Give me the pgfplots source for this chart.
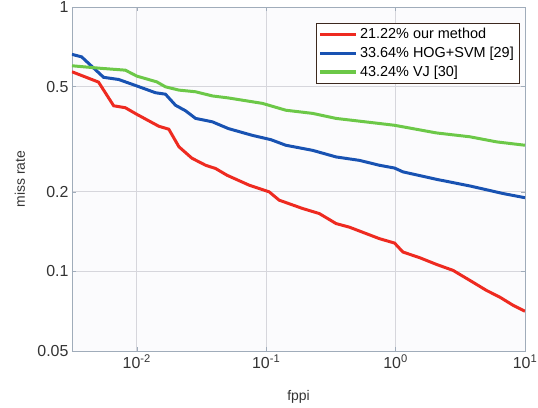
\documentclass[border=0pt]{standalone}
\usepackage{fontspec}
\setmainfont{Liberation Sans}
\usepackage{pgfplots}
\pgfplotsset{compat=1.18}
\definecolor{cRed}{RGB}{238,42,32}
\definecolor{cBlue}{RGB}{24,82,178}
\definecolor{cGreen}{RGB}{108,200,72}
\definecolor{gridc}{RGB}{214,214,220}
\definecolor{axc}{RGB}{160,172,186}

\begin{document}
\begin{tikzpicture}
\path[use as bounding box] (-72bp,-57bp) rectangle (466bp,351bp);
\begin{axis}[
  at={(0,0)}, anchor=south west,
  width=453bp, height=344bp, scale only axis,
  xmode=log, ymode=log,
  xmin=0.0031623, xmax=10, ymin=0.05, ymax=1,
  xtick={0.01,0.1,1,10},
  xticklabels={10\textsuperscript{-2},10\textsuperscript{-1},10\textsuperscript{0},10\textsuperscript{1}},
  ytick={0.05,0.1,0.2,0.5,1},
  yticklabels={0.05,0.1,0.2,0.5,1},
  xminorticks=false, yminorticks=false,
  tick align=inside, major tick length=4bp,
  tick style={axc},
  axis line style={axc},
  grid=major, major grid style={gridc, line width=0.8pt},
  ticklabel style={font=\fontsize{16}{19}\selectfont, text=black!80},
  xlabel={fppi}, ylabel={miss rate},
  label style={font=\fontsize{14}{17}\selectfont, text=black!80},
  xlabel style={at={(axis description cs:0.5,-0.1337)}, anchor=center},
  ylabel style={at={(axis description cs:-0.1148,0.5)}, anchor=center},
  axis background/.style={fill={rgb,255:red,251;green,251;blue,253}},
  every axis plot/.append style={line width=3pt},
  legend style={at={(1,1)}, anchor=north east, xshift=-6bp, yshift=-16bp,
    draw={rgb,255:red,60;green,40;blue,30}, fill=white,
    font=\fontsize{14.5}{17}\selectfont, row sep=3bp, inner sep=3bp},
  legend cell align=left,
  legend image code/.code={\draw[mark repeat=2,mark phase=2,#1] plot coordinates {(0bp,0bp) (18bp,0bp) (36bp,0bp)};},
  every legend image post/.style={line width=3.2pt},
]
\addplot[cRed] coordinates {
(0.00316,0.569) (0.00507,0.520) (0.00664,0.423) (0.00817,0.416) (0.01,0.393)
(0.01482,0.354) (0.0177,0.345) (0.0212,0.296) (0.0267,0.268) (0.0341,0.252)
(0.0407,0.245) (0.0499,0.231) (0.0738,0.212) (0.1055,0.200) (0.126,0.186)
(0.191,0.173) (0.2576,0.1655) (0.347,0.1517) (0.440,0.147) (0.593,0.139)
(0.751,0.133) (0.982,0.128) (1.139,0.1184) (1.535,0.1127) (2.068,0.1063)
(2.781,0.1009) (3.746,0.0925) (5.05,0.0847) (6.40,0.0799) (8.11,0.0744)
(10,0.0707)};
\addlegendentry{21.22\% our method}
\addplot[cBlue] coordinates {
(0.00316,0.662) (0.00375,0.648) (0.00555,0.542) (0.00725,0.532) (0.01,0.503)
(0.01396,0.474) (0.01668,0.468) (0.01995,0.425) (0.02385,0.405) (0.0285,0.379)
(0.0384,0.368) (0.0510,0.347) (0.0783,0.327) (0.1087,0.315) (0.142,0.300)
(0.2286,0.287) (0.347,0.271) (0.526,0.263) (0.751,0.252) (0.982,0.246)
(1.139,0.238) (2.068,0.223) (3.746,0.2105) (6.79,0.197) (10,0.190)};
\addlegendentry{33.64\% HOG+SVM [29]}
\addplot[cGreen] coordinates {
(0.00316,0.5995) (0.00535,0.586) (0.00817,0.577) (0.01,0.548) (0.01429,0.521)
(0.01668,0.499) (0.0212,0.485) (0.0285,0.478) (0.0384,0.461) (0.0510,0.453)
(0.0936,0.432) (0.142,0.407) (0.2286,0.396) (0.347,0.379) (0.751,0.3626)
(0.982,0.357) (2.068,0.334) (3.746,0.323) (6.03,0.309) (10,0.300)};
\addlegendentry{43.24\% VJ [30]}
\end{axis}
\end{tikzpicture}
\end{document}
